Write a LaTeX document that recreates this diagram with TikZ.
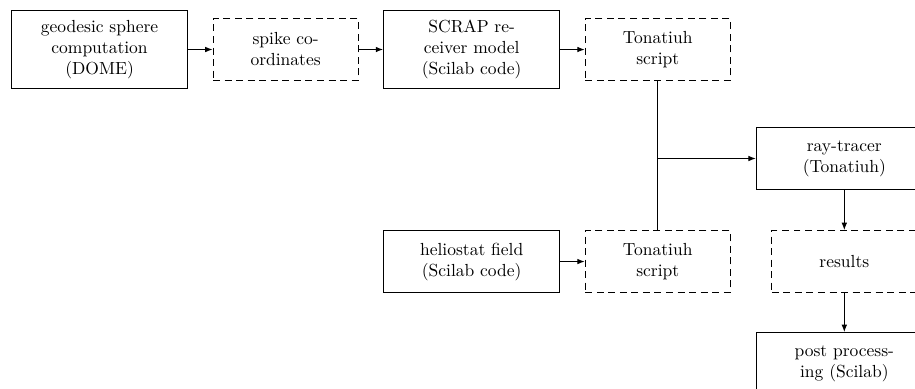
\documentclass[tikz,border=0pt]{standalone}
\usetikzlibrary{arrows.meta,positioning}

\begin{document}
\begin{tikzpicture}[
    proc/.style={draw,minimum width=100.6pt,minimum height=35.4pt,inner sep=2pt,align=center},
    tall/.style={minimum height=44.6pt},
    data/.style={draw,dash pattern=on 4pt off 2.6pt,minimum width=82.9pt,minimum height=35.4pt,inner sep=2pt,align=center},
    >={Latex[length=4.2pt,width=3.2pt]},semithick,node distance=14pt]
    \useasboundingbox (0,0) rectangle (523pt,-222.3pt);
    \node[proc,tall,anchor=north west] (dome) at (6.3pt,-5.7pt) {geodesic sphere\\computation\\(DOME)};
    \node[data,right=of dome] (spike) {spike co-\\ordinates};
    \node[proc,tall,right=of spike] (scrap) {SCRAP re-\\ceiver model\\(Scilab code)};
    \node[data,right=of scrap] (tonA) {Tonatiuh\\script};
    \node[proc,below=80.6pt of scrap] (helio) {heliostat field\\(Scilab code)};
    \node[data,right=of helio] (tonB) {Tonatiuh\\script};
    \node[proc,anchor=west] (ray) at ([xshift=14.3pt,yshift=-62.3pt]tonA.east) {ray-tracer\\(Tonatiuh)};
    \node[data,below=22.9pt of ray] (res) {results};
    \node[proc,below=22.3pt of res] (post) {post process-\\ing (Scilab)};
    \draw[->] (dome)--(spike); \draw[->] (spike)--(scrap); \draw[->] (scrap)--(tonA);
    \draw[->] (helio)--(tonB);
    \draw (tonB)--(tonA);
    \draw[->] (tonA) |- (ray);
    \draw[->] (ray)--(res); \draw[->] (res)--(post);
  \end{tikzpicture}
\end{document}
